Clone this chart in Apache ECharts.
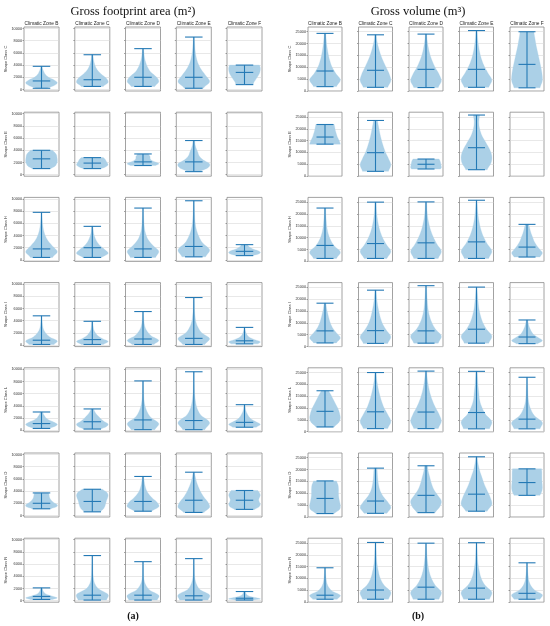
<!DOCTYPE html>
<html>
<head>
<meta charset="utf-8">
<script src="https://cdn.jsdelivr.net/npm/echarts@6/dist/echarts.min.js"></script>
<style>html,body{margin:0;padding:0;background:#fff;}#chart{width:550px;height:626px;}</style>
</head>
<body>
<div id="chart"></div>
<script>
// ---------- DATA ----------
const zones = ['Climatic Zone B', 'Climatic Zone C', 'Climatic Zone D', 'Climatic Zone E', 'Climatic Zone F'];
const shapeClasses = ['Shape Class C', 'Shape Class E', 'Shape Class H', 'Shape Class I', 'Shape Class L', 'Shape Class O', 'Shape Class R'];
const areaTicks = [0, 2000, 4000, 6000, 8000, 10000];
const volumeTicks = [0, 5000, 10000, 15000, 20000, 25000];

// each violin: [min, central line, max, density widths from min (first) to max (last)]
const areaC = [
  [200, 1400, 3800, 0.35, 0.8, 1.0, 0.8, 0.45, 0.25, 0.15, 0.08, 0.04],
  [500, 1600, 5700, 0.7, 1.0, 0.9, 0.6, 0.35, 0.2, 0.12, 0.07, 0.04],
  [500, 2000, 6700, 0.75, 1.0, 0.85, 0.5, 0.3, 0.18, 0.1, 0.06, 0.03],
  [200, 2000, 8600, 0.6, 1.0, 0.75, 0.45, 0.25, 0.14, 0.08, 0.05, 0.03],
  [800, 2800, 4000, 0.55, 0.6, 0.7, 0.8, 0.9, 0.97, 1.0, 1.0, 0.95]
];
const areaE = [
  [1000, 2600, 4000, 0.6, 0.85, 0.95, 1.0, 1.0, 0.98, 0.95, 0.85, 0.7],
  [1000, 1900, 2800, 0.6, 0.8, 0.95, 1.0, 0.95, 0.9, 0.85, 0.8, 0.7],
  [1500, 2100, 3400, 0.8, 1.0, 0.9, 0.65, 0.5, 0.45, 0.45, 0.4, 0.35],
  [500, 2100, 5600, 0.4, 0.9, 1.0, 0.6, 0.35, 0.25, 0.15, 0.08, 0.05],
  null
];
const areaH = [
  [400, 1800, 7800, 0.7, 1.0, 0.7, 0.4, 0.22, 0.12, 0.07, 0.04, 0.03],
  [400, 2000, 5500, 0.6, 1.0, 0.8, 0.5, 0.3, 0.18, 0.1, 0.06, 0.04],
  [400, 1800, 8500, 0.8, 1.0, 0.6, 0.3, 0.15, 0.08, 0.05, 0.03, 0.02],
  [500, 2200, 9700, 0.75, 1.0, 0.55, 0.3, 0.15, 0.08, 0.05, 0.03, 0.02],
  [700, 1400, 2500, 0.5, 0.85, 1.0, 0.95, 0.75, 0.5, 0.35, 0.25, 0.2]
];
const areaI = [
  [100, 800, 4800, 0.8, 1.0, 0.55, 0.3, 0.15, 0.08, 0.05, 0.03, 0.02],
  [100, 900, 3900, 0.7, 1.0, 0.65, 0.35, 0.2, 0.1, 0.06, 0.04, 0.03],
  [100, 1000, 5500, 0.7, 1.0, 0.55, 0.3, 0.15, 0.08, 0.05, 0.03, 0.02],
  [100, 1100, 7800, 0.7, 1.0, 0.5, 0.25, 0.12, 0.07, 0.04, 0.03, 0.02],
  [200, 700, 2900, 0.85, 1.0, 0.65, 0.35, 0.2, 0.12, 0.07, 0.04, 0.03]
];
const areaL = [
  [300, 1100, 3000, 0.5, 0.85, 1.0, 0.8, 0.5, 0.3, 0.2, 0.12, 0.08],
  [200, 1400, 3500, 0.55, 0.9, 1.0, 0.75, 0.55, 0.4, 0.25, 0.15, 0.08],
  [100, 1700, 8100, 0.75, 1.0, 0.5, 0.25, 0.12, 0.06, 0.04, 0.03, 0.02],
  [100, 1600, 9600, 0.7, 1.0, 0.45, 0.2, 0.1, 0.05, 0.03, 0.02, 0.02],
  [500, 1300, 4200, 0.75, 1.0, 0.7, 0.4, 0.25, 0.15, 0.08, 0.05, 0.03]
];
const areaO = [
  [1100, 2000, 3700, 0.6, 0.95, 1.0, 0.8, 0.65, 0.55, 0.5, 0.48, 0.45],
  [600, 2300, 4300, 0.5, 0.7, 0.8, 0.85, 0.9, 0.97, 1.0, 0.9, 0.65],
  [700, 2300, 6400, 0.55, 1.0, 0.9, 0.6, 0.35, 0.2, 0.12, 0.07, 0.04],
  [500, 2500, 7100, 0.65, 1.0, 0.9, 0.65, 0.45, 0.3, 0.18, 0.1, 0.04],
  [1000, 2500, 4100, 0.65, 0.9, 1.0, 0.95, 0.9, 0.95, 1.0, 0.95, 0.85]
];
const areaR = [
  [200, 700, 2100, 0.7, 1.0, 0.75, 0.45, 0.25, 0.15, 0.1, 0.07, 0.05],
  [100, 900, 7400, 0.9, 1.0, 0.4, 0.15, 0.07, 0.04, 0.03, 0.02, 0.02],
  [100, 900, 6400, 0.9, 1.0, 0.45, 0.2, 0.08, 0.04, 0.03, 0.02, 0.02],
  [100, 800, 6900, 0.9, 1.0, 0.4, 0.18, 0.08, 0.04, 0.03, 0.02, 0.02],
  [100, 400, 1500, 0.5, 1.0, 0.8, 0.45, 0.25, 0.15, 0.1, 0.07, 0.05]
];

const volumeC = [
  [1800, 8400, 24300, 0.75, 1.0, 0.7, 0.45, 0.3, 0.2, 0.13, 0.08, 0.05],
  [1500, 8700, 23700, 0.8, 1.0, 0.9, 0.7, 0.5, 0.33, 0.2, 0.1, 0.05],
  [1400, 9100, 24000, 0.8, 1.0, 0.85, 0.6, 0.4, 0.25, 0.15, 0.08, 0.04],
  [1500, 9100, 25500, 0.8, 1.0, 0.75, 0.5, 0.32, 0.2, 0.12, 0.07, 0.04],
  [1300, 11200, 25000, 0.85, 1.0, 0.98, 0.9, 0.8, 0.7, 0.6, 0.52, 0.45]
];
const volumeE = [
  [13500, 16500, 21800, 1.0, 0.95, 0.88, 0.8, 0.75, 0.7, 0.66, 0.63, 0.6],
  [2000, 9900, 23500, 0.85, 1.0, 0.85, 0.65, 0.5, 0.38, 0.28, 0.2, 0.13],
  [3000, 5000, 7200, 0.95, 1.0, 1.0, 0.98, 0.97, 0.95, 0.93, 0.9, 0.85],
  [2700, 12000, 25800, 0.7, 0.95, 1.0, 0.85, 0.6, 0.35, 0.2, 0.15, 0.2],
  null
];
const volumeH = [
  [1200, 6700, 22500, 0.75, 1.0, 0.6, 0.35, 0.2, 0.12, 0.08, 0.05, 0.04],
  [1200, 7500, 25000, 0.75, 1.0, 0.7, 0.45, 0.28, 0.17, 0.1, 0.06, 0.04],
  [1200, 7800, 25100, 0.8, 1.0, 0.72, 0.48, 0.3, 0.18, 0.1, 0.06, 0.04],
  [1200, 8200, 25800, 0.8, 1.0, 0.7, 0.45, 0.28, 0.17, 0.1, 0.06, 0.03],
  [1800, 6000, 15600, 0.85, 1.0, 0.8, 0.6, 0.45, 0.35, 0.25, 0.18, 0.12]
];
const volumeI = [
  [1500, 6600, 18300, 0.75, 1.0, 0.75, 0.5, 0.35, 0.25, 0.17, 0.1, 0.06],
  [1300, 6700, 23800, 0.8, 1.0, 0.7, 0.45, 0.3, 0.2, 0.12, 0.07, 0.04],
  [1400, 6600, 25700, 0.8, 1.0, 0.6, 0.35, 0.2, 0.12, 0.08, 0.05, 0.03],
  [1400, 7300, 25100, 0.8, 1.0, 0.65, 0.4, 0.25, 0.15, 0.1, 0.06, 0.03],
  [1200, 4000, 11200, 0.7, 1.0, 0.75, 0.45, 0.3, 0.2, 0.13, 0.08, 0.05]
];
const volumeL = [
  [2000, 8600, 17300, 0.6, 0.9, 1.0, 0.95, 0.85, 0.7, 0.55, 0.4, 0.25],
  [1300, 8400, 25000, 0.8, 1.0, 0.8, 0.55, 0.38, 0.25, 0.15, 0.08, 0.04],
  [1300, 8300, 25600, 0.8, 1.0, 0.85, 0.6, 0.4, 0.25, 0.15, 0.08, 0.04],
  [1200, 8100, 25500, 0.85, 1.0, 0.6, 0.35, 0.2, 0.15, 0.1, 0.07, 0.04],
  [1200, 5300, 23000, 0.85, 1.0, 0.5, 0.25, 0.12, 0.07, 0.05, 0.03, 0.02]
];
const volumeO = [
  [1400, 7800, 15200, 0.6, 0.95, 1.0, 0.95, 0.9, 0.88, 0.88, 0.85, 0.75],
  [1500, 6700, 20600, 0.75, 1.0, 0.8, 0.5, 0.3, 0.2, 0.15, 0.12, 0.1],
  [1800, 9100, 21600, 0.6, 0.9, 1.0, 0.75, 0.5, 0.35, 0.25, 0.15, 0.1],
  [2400, 9600, 25400, 0.7, 1.0, 0.9, 0.7, 0.5, 0.35, 0.2, 0.1, 0.04],
  [9100, 14500, 20300, 0.85, 0.95, 1.0, 1.0, 0.98, 0.97, 0.97, 0.97, 0.95]
];
const volumeR = [
  [1200, 2900, 14500, 0.8, 1.0, 0.5, 0.25, 0.13, 0.08, 0.05, 0.03, 0.02],
  [1200, 5100, 25200, 0.85, 1.0, 0.55, 0.3, 0.18, 0.1, 0.06, 0.04, 0.02],
  [1200, 6300, 24900, 0.85, 1.0, 0.6, 0.35, 0.2, 0.12, 0.07, 0.04, 0.02],
  [1200, 5900, 25100, 0.85, 1.0, 0.55, 0.3, 0.18, 0.1, 0.06, 0.04, 0.02],
  [1200, 3700, 16600, 0.85, 1.0, 0.5, 0.25, 0.13, 0.08, 0.05, 0.03, 0.02]
];

const areaRows = [areaC, areaE, areaH, areaI, areaL, areaO, areaR];
const volumeRows = [volumeC, volumeE, volumeH, volumeI, volumeL, volumeO, volumeR];

// ---------- LAYOUT / STYLE ----------
const FILL = '#abd0e7';
const LINE = '#2479b5';
const rowTops = [27, 112.2, 197.4, 282.6, 367.8, 453, 538.2];
const boxH = 64;
const panels = [
  { rows: areaRows, ticks: areaTicks, min: -250, max: 10250, lefts: [24, 74.8, 125.5, 176.3, 227], boxW: 35,
    title: 'Gross footprint area (m\u00B2)', titleX: 133, label: '(a)', nameGap: 13 },
  { rows: volumeRows, ticks: volumeTicks, min: -50, max: 27000, lefts: [308, 358.5, 409, 459.5, 510], boxW: 34,
    title: 'Gross volume (m\u00B3)', titleX: 418, label: '(b)', nameGap: 16 }
];

function violinItem(params, api) {
  const cs = params.coordSys;
  const cx = cs.x + cs.width / 2;
  const half = cs.width * 0.45;
  const cap = cs.width * 0.25;
  const mn = api.value(1), md = api.value(2), mx = api.value(3);
  const w = [];
  for (let k = 0; k < 9; k++) w.push(api.value(4 + k));
  const yOf = v => api.coord([0.5, v])[1];
  const samples = [];
  const steps = 6;
  for (let j = 0; j < 8; j++) {
    const p0 = w[Math.max(j - 1, 0)], p1 = w[j], p2 = w[j + 1], p3 = w[Math.min(j + 2, 8)];
    for (let s = 0; s < steps; s++) {
      const t = s / steps, t2 = t * t, t3 = t2 * t;
      const val = 0.5 * ((2 * p1) + (-p0 + p2) * t + (2 * p0 - 5 * p1 + 4 * p2 - p3) * t2 + (-p0 + 3 * p1 - 3 * p2 + p3) * t3);
      samples.push([(j + t) / 8, Math.max(0.015, Math.min(1.02, val))]);
    }
  }
  samples.push([1, w[8]]);
  const right = samples.map(([f, ww]) => [cx + ww * half, yOf(mn + (mx - mn) * f)]);
  const left = samples.slice().reverse().map(([f, ww]) => [cx - ww * half, yOf(mn + (mx - mn) * f)]);
  const ls = { stroke: LINE, lineWidth: 1.1 };
  const hline = v => ({ type: 'line', shape: { x1: cx - cap, y1: yOf(v), x2: cx + cap, y2: yOf(v) }, style: ls });
  return {
    type: 'group',
    children: [
      { type: 'polygon', shape: { points: right.concat(left) }, style: { fill: FILL, stroke: FILL, lineWidth: 0.3 } },
      { type: 'line', shape: { x1: cx, y1: yOf(mn), x2: cx, y2: yOf(mx) }, style: ls },
      hline(mn), hline(md), hline(mx)
    ]
  };
}

const option = {
  animation: false,
  backgroundColor: '#ffffff',
  title: [],
  grid: [],
  xAxis: [],
  yAxis: [],
  series: []
};

panels.forEach(p => {
  option.title.push({
    text: p.title, left: p.titleX, top: 5, textAlign: 'center', padding: 0,
    textStyle: { fontFamily: 'Liberation Serif', fontSize: 12.5, fontWeight: 'normal', color: '#111' }
  });
  option.title.push({
    text: p.label, left: p.titleX, top: 611, textAlign: 'center', padding: 0,
    textStyle: { fontFamily: 'Liberation Serif', fontSize: 10, fontWeight: 'bold', color: '#111' }
  });
  zones.forEach((z, ci) => {
    option.title.push({
      text: z, left: p.lefts[ci] + p.boxW / 2, top: 20.8, textAlign: 'center', padding: 0,
      textStyle: { fontFamily: 'Liberation Sans', fontSize: 4.8, fontWeight: 'normal', color: '#222' }
    });
  });
  p.rows.forEach((row, ri) => {
    row.forEach((v, ci) => {
      const idx = option.grid.length;
      option.grid.push({
        left: p.lefts[ci], top: rowTops[ri], width: p.boxW, height: boxH,
        show: true, borderColor: '#8a8a8a', borderWidth: 0.8, backgroundColor: 'transparent'
      });
      option.xAxis.push({
        type: 'value', gridIndex: idx, min: 0, max: 1,
        axisLine: { show: false }, axisTick: { show: false }, axisLabel: { show: false }, splitLine: { show: false }
      });
      option.yAxis.push({
        type: 'value', gridIndex: idx, min: p.min, max: p.max,
        name: ci === 0 ? shapeClasses[ri] : '',
        nameLocation: 'middle', nameRotate: 90, nameGap: p.nameGap,
        nameTextStyle: { fontFamily: 'Liberation Sans', fontSize: 4, color: '#333' },
        axisLine: { show: false },
        axisTick: { show: true, customValues: p.ticks, length: 1.5, lineStyle: { color: '#666', width: 0.6 } },
        axisLabel: { show: ci === 0, customValues: p.ticks, formatter: val => String(val),
          fontFamily: 'Liberation Sans', fontSize: 3.8, color: '#333', margin: 2 },
        splitLine: { show: true, lineStyle: { color: '#d8d8d8', width: 0.6 } }
      });
      if (v) {
        option.series.push({
          type: 'custom', xAxisIndex: idx, yAxisIndex: idx,
          dimensions: ['x', 'min', 'mid', 'max', 'w0', 'w1', 'w2', 'w3', 'w4', 'w5', 'w6', 'w7', 'w8'],
          encode: { x: 0, y: [1, 2, 3] },
          renderItem: violinItem,
          clip: false,
          data: [[0.5].concat(v)]
        });
      }
    });
  });
});

const chart = echarts.init(document.getElementById('chart'), null, { renderer: 'canvas', width: 550, height: 626 });
chart.setOption(option);
</script>
</body>
</html>
